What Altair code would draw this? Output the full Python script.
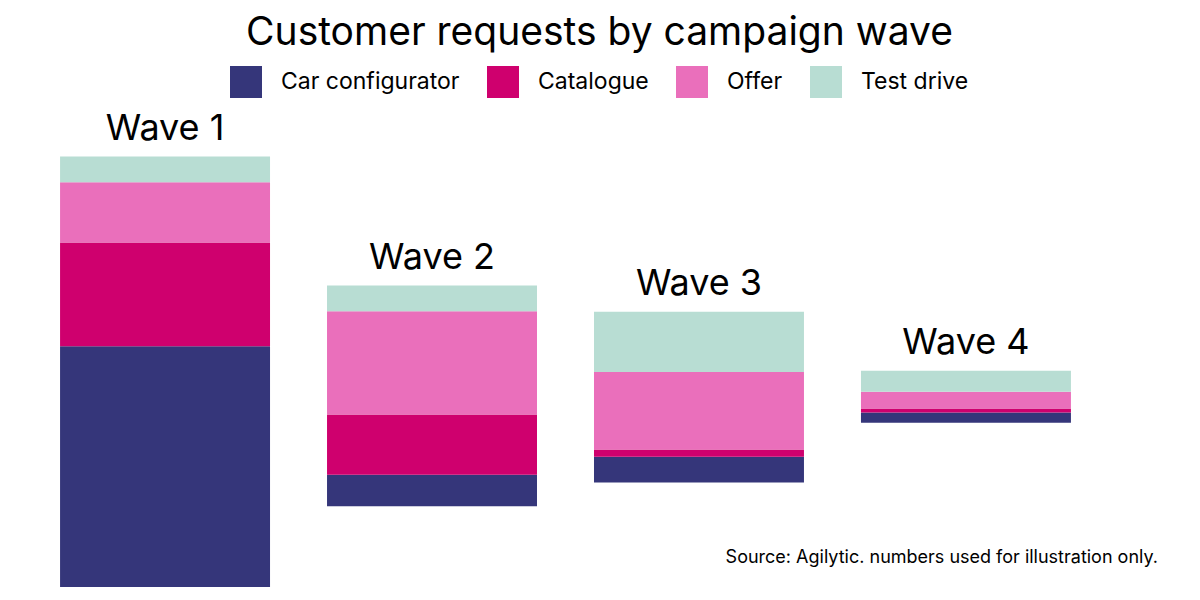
import altair as alt
import pandas as pd

waves = ["Wave 1", "Wave 2", "Wave 3", "Wave 4"]
channels = ["Car configurator", "Catalogue", "Offer", "Test drive"]
car_configurator = [560, 73, 60, 24]
catalogue = [241, 140, 17, 9]
offer = [140, 240, 180, 39]
test_drive = [60, 60, 140, 49]
base = [0, 188, 243, 382]  # floating start of each wave's stack
colors = ["#35367a", "#cf006e", "#ea6fbb", "#b8ddd3"]

series = [car_configurator, catalogue, offer, test_drive]
rows, tops = [], []
for i, w in enumerate(waves):
    start = base[i]
    for ch, vals in zip(channels, series):
        rows.append({"wave": w, "channel": ch, "order": channels.index(ch),
                     "y0": start, "y1": start + vals[i]})
        start += vals[i]
    tops.append({"wave": w, "top": start})
df = pd.DataFrame(rows)
tops_df = pd.DataFrame(tops)

FONT = "Inter"
W, H = 1115, 477
ymax = H / 0.43

xscale = alt.Scale(domain=waves, paddingInner=0.2135, paddingOuter=0.195)
yscale = alt.Scale(domain=[0, ymax], nice=False, zero=False)

bars = alt.Chart(df).mark_bar(stroke=None).encode(
    x=alt.X("wave:N", scale=xscale, axis=None),
    y=alt.Y("y0:Q", scale=yscale, axis=None),
    y2="y1:Q",
    color=alt.Color("channel:N",
                    scale=alt.Scale(domain=channels, range=colors),
                    legend=alt.Legend(title=None, orient="none", direction="horizontal",
                                      legendX=222, legendY=-44,
                                      symbolType="square", symbolSize=1024,
                                      symbolStrokeWidth=0, symbolOpacity=1,
                                      labelFontSize=23, labelFont=FONT,
                                      labelColor="#000000", labelOffset=19,
                                      columnPadding=27, labelLimit=400)),
    order=alt.Order("order:Q"),
)

labels = alt.Chart(tops_df).mark_text(
    baseline="bottom", dy=-9, fontSize=36, font=FONT, color="#000000"
).encode(
    x=alt.X("wave:N", scale=xscale, axis=None),
    y=alt.Y("top:Q", scale=yscale, axis=None),
    text="wave:N",
)

source = alt.Chart(pd.DataFrame({"t": ["Source: Agilytic. numbers used for illustration only."]})).mark_text(
    align="right", baseline="middle", fontSize=18, font=FONT, color="#000000"
).encode(
    x=alt.value(1150), y=alt.value(448), text="t:N"
)

chart = alt.layer(bars, labels, source).properties(
    width=W, height=H,
    title=alt.Title("Customer requests by campaign wave", fontSize=39, font=FONT,
                    fontWeight="normal", color="#000000", anchor="middle",
                    frame="group", dx=34, offset=13),
    autosize=alt.AutoSizeParams(type="none"),
    padding={"left": 0, "top": 102, "right": 69, "bottom": 5},
    background="#ffffff",
).configure_view(stroke=None)

chart.save("out.html", embed_options={"renderer": "svg", "actions": False})
